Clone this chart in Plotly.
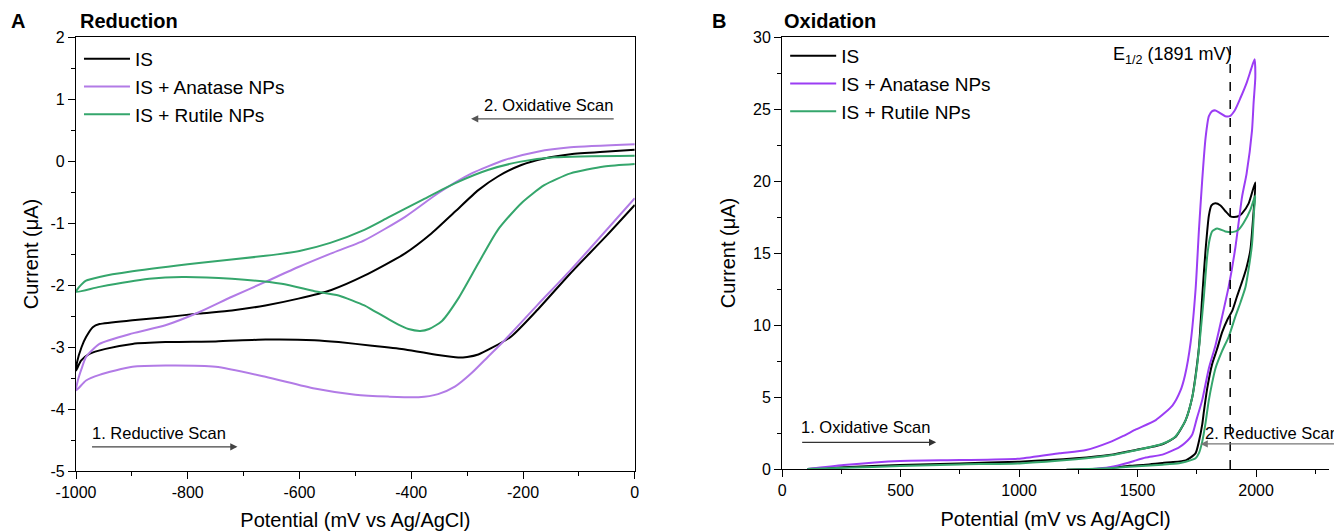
import plotly.graph_objects as go

# ---------------- Panel A: Reduction (mV vs Ag/AgCl, uA) ----------------
red_is_x = [0, -50, -115, -174, -221, -257, -280, -300, -316, -352, -411, -470, -530, -573, -661, -750,
            -840, -899, -947, -976, -991, -1000,
            -998, -990, -982, -970, -958, -899, -840, -780, -721, -661, -602, -543, -484, -411, -364,
            -322, -280, -245, -203, -162, -115, -55, 0]
red_is_y = [-0.71, -1.20, -1.81, -2.40, -2.83, -3.02, -3.12, -3.16, -3.17, -3.13, -3.04, -2.98, -2.92,
            -2.89, -2.88, -2.91, -2.92, -2.95, -3.03, -3.11, -3.22, -3.38,
            -3.24, -3.00, -2.84, -2.68, -2.63, -2.57, -2.52, -2.46, -2.41, -2.33, -2.22, -2.08, -1.85,
            -1.49, -1.17, -0.82, -0.47, -0.25, -0.065, 0.04, 0.11, 0.15, 0.18]

red_ana_x = [0, -115, -174, -233, -263, -292, -322, -352, -387, -441, -500, -573, -661, -750, -840,
             -899, -958, -982, -1000,
             -997, -990, -982, -958, -899, -840, -780, -721, -661, -602, -543, -484, -411, -352, -292,
             -233, -174, -115, 0]
red_ana_y = [-0.60, -1.76, -2.32, -2.89, -3.16, -3.42, -3.64, -3.76, -3.81, -3.80, -3.77, -3.67, -3.48,
             -3.32, -3.30, -3.32, -3.45, -3.54, -3.70,
             -3.55, -3.35, -3.16, -2.95, -2.78, -2.65, -2.44, -2.19, -1.95, -1.71, -1.49, -1.28, -0.90,
             -0.52, -0.20, 0.016, 0.15, 0.22, 0.27]

red_rut_x = [0, -55, -115, -162, -203, -245, -280, -316, -345, -368, -384, -405, -423, -470, -484, -530,
             -573, -632, -721, -810, -869, -958, -1000,
             -995, -982, -958, -899, -780, -661, -600, -545, -484, -441, -381, -322, -263, -204, -144, 0]
red_rut_y = [-0.05, -0.09, -0.20, -0.39, -0.68, -1.11, -1.65, -2.22, -2.58, -2.71, -2.74, -2.71, -2.64,
             -2.40, -2.33, -2.17, -2.10, -1.98, -1.90, -1.87, -1.90, -2.03, -2.11,
             -2.04, -1.93, -1.87, -1.78, -1.645, -1.53, -1.45, -1.32, -1.11, -0.91, -0.63, -0.36,
             -0.145, -0.01, 0.06, 0.086]

# ---------------- Panel B: Oxidation ----------------
ox_is_x = [106, 260, 498, 750, 1002, 1240, 1380, 1493, 1605, 1661, 1703, 1731, 1745, 1760, 1773, 1787,
           1801, 1812, 1828, 1850, 1871, 1892, 1906, 1925, 1941, 1969, 1997,
           1988, 1976, 1960, 1941, 1920, 1900, 1880, 1857, 1835, 1815, 1794, 1780, 1773, 1760, 1745,
           1720, 1703, 1650, 1605, 1535, 1465, 1380, 1325, 1200]
ox_is_y = [0, 0.12, 0.28, 0.39, 0.51, 0.74, 0.97, 1.32, 1.72, 2.24, 3.4, 5.0, 6.5, 8.6, 12.0, 15.2,
           17.6, 18.3, 18.45, 18.3, 17.9, 17.55, 17.5, 17.55, 17.75, 18.45, 19.9,
           17.5, 15.2, 14.0, 13.0, 12.0, 11.0, 10.4, 9.5, 8.3, 7.3, 5.6, 4.0, 3.1, 2.0, 1.1,
           0.75, 0.6, 0.48, 0.42, 0.30, 0.22, 0.05, 0.0, -0.05]

ox_ana_x = [106, 260, 498, 750, 1002, 1170, 1283, 1380, 1440, 1493, 1577, 1647, 1680, 1700, 1724,
            1745, 1759, 1773, 1787, 1801, 1815, 1829, 1850, 1870, 1889, 1910, 1935, 1960, 1980, 1994,
            1997, 1990, 1983, 1960, 1941, 1913, 1885, 1857, 1829, 1801, 1773, 1750, 1731, 1700, 1675,
            1605, 1535, 1493, 1465, 1380, 1310, 1200]
ox_ana_y = [0, 0.28, 0.56, 0.62, 0.72, 1.09, 1.32, 1.85, 2.3, 2.75, 3.4, 4.4, 5.4, 6.5, 8.8,
            12.5, 16.6, 20.1, 23.0, 24.5, 24.85, 24.9, 24.7, 24.5, 24.5, 24.9, 25.8, 26.8, 27.8, 28.45,
            27.2, 25.5, 23.5, 20.5, 18.9, 15.4, 12.7, 10.6, 8.6, 7.0, 4.8, 3.5, 2.4, 1.8, 1.5,
            1.0, 0.8, 0.6, 0.45, 0.12, 0.0, -0.1]

ox_rut_x = [106, 260, 498, 750, 1002, 1240, 1380, 1493, 1605, 1661, 1703, 1731, 1750, 1766, 1780,
            1794, 1805, 1815, 1836, 1870, 1900, 1925, 1948, 1976, 1997,
            1992, 1983, 1965, 1955, 1935, 1913, 1885, 1857, 1829, 1815, 1800, 1787, 1773, 1759, 1745,
            1703, 1675, 1605, 1535, 1465, 1380, 1325, 1200]
ox_rut_y = [0, 0.08, 0.21, 0.32, 0.39, 0.67, 0.93, 1.30, 1.75, 2.28, 3.4, 5.0, 7.0, 9.5, 12.0,
            14.8, 16.0, 16.5, 16.7, 16.5, 16.45, 16.6, 17.1, 18.0, 19.0,
            18.0, 15.6, 13.5, 12.6, 11.6, 10.6, 9.2, 8.2, 7.0, 6.0, 4.7, 3.2, 1.9, 1.1, 0.75,
            0.5, 0.4, 0.3, 0.22, 0.15, 0.06, 0.02, -0.05]

series_names = ["IS", "IS + Anatase NPs", "IS + Rutile NPs"]
e_half = 1891

red_xticks = [-1000, -800, -600, -400, -200, 0]
red_xtext = ["-1000", "-800", "-600", "-400", "-200", "0"]
red_yticks = [-5, -4, -3, -2, -1, 0, 1, 2]
red_ytext = ["-5", "-4", "-3", "-2", "-1", "0", "1", "2"]
ox_xticks = [0, 500, 1000, 1500, 2000, 2500]
ox_yticks = [0, 5, 10, 15, 20, 25, 30]

BLACK = "#000000"
PURPLE_A = "#b27be6"
PURPLE_B = "#9b3df4"
GREEN = "#35a66c"
FONT = "Arial, Liberation Sans, sans-serif"

# layout geometry (pixels)
W, H = 1334, 531
ML, MR, MT, MB = 76, 0, 37, 60
PW, PH = W - ML - MR, H - MT - MB


def px(x):
    return (x - ML) / PW


def py(y):
    return (H - MB - y) / PH


fig = go.Figure()

for xs, ys, name, col in [(red_is_x, red_is_y, series_names[0], BLACK),
                          (red_ana_x, red_ana_y, series_names[1], PURPLE_A),
                          (red_rut_x, red_rut_y, series_names[2], GREEN)]:
    fig.add_trace(go.Scatter(x=xs, y=ys, mode="lines", name=name,
                             line=dict(color=col, width=2, shape="spline", smoothing=0.6),
                             xaxis="x", yaxis="y", legend="legend"))

for xs, ys, name, col in [(ox_is_x, ox_is_y, series_names[0], BLACK),
                          (ox_ana_x, ox_ana_y, series_names[1], PURPLE_B),
                          (ox_rut_x, ox_rut_y, series_names[2], GREEN)]:
    fig.add_trace(go.Scatter(x=xs, y=ys, mode="lines", name=name,
                             line=dict(color=col, width=2, shape="spline", smoothing=0.6),
                             xaxis="x2", yaxis="y2", legend="legend2"))

axis_common = dict(showline=True, linecolor="black", linewidth=1.3, ticks="outside", ticklen=7,
                   tickwidth=1.2, tickcolor="black", showgrid=False, zeroline=False,
                   tickfont=dict(family=FONT, size=16, color="black"))

title_font = dict(family=FONT, size=20, color="black")

fig.update_layout(
    width=W, height=H,
    margin=dict(l=ML, r=MR, t=MT, b=MB, pad=0),
    paper_bgcolor="white", plot_bgcolor="white",
    font=dict(family=FONT, color="black"),
    xaxis=dict(domain=[0, px(637)], range=[-1000, 0], tickvals=red_xticks, ticktext=red_xtext,
               mirror=True, anchor="y",
               minor=dict(dtick=100, tick0=-1000, ticks="outside", ticklen=4, tickcolor="black", tickwidth=1.2),
               title=dict(text="Potential (mV vs Ag/AgCl)", font=title_font, standoff=13), **axis_common),
    yaxis=dict(domain=[0, 1], range=[-5, 2], tickvals=red_yticks, ticktext=red_ytext, mirror=True, anchor="x",
               minor=dict(dtick=0.5, tick0=-5, ticks="outside", ticklen=4, tickcolor="black", tickwidth=1.2),
               title=dict(text="Current (μA)", font=title_font, standoff=6), **axis_common),
    xaxis2=dict(domain=[px(785), 1], range=[0, 2308], tickvals=ox_xticks, mirror=True, anchor="y2",
                minor=dict(dtick=250, tick0=0, ticks="outside", ticklen=4, tickcolor="black", tickwidth=1.2),
                title=dict(text="Potential (mV vs Ag/AgCl)", font=title_font, standoff=13), **axis_common),
    yaxis2=dict(domain=[2 / PH, 1], range=[0, 30], tickvals=ox_yticks, mirror=False, anchor="x2",
                minor=dict(dtick=2.5, tick0=0, ticks="outside", ticklen=4, tickcolor="black", tickwidth=1.2),
                title=dict(text="Current (μA)", font=title_font, standoff=12), **axis_common),
    legend=dict(x=px(79), y=py(40), xanchor="left", yanchor="top", bgcolor="rgba(0,0,0,0)",
                font=dict(family=FONT, size=19, color="black"), itemwidth=46, tracegroupgap=0),
    legend2=dict(x=px(788), y=py(37), xanchor="left", yanchor="top", bgcolor="rgba(0,0,0,0)",
                 font=dict(family=FONT, size=19, color="black"), itemwidth=46, tracegroupgap=0),
    showlegend=True,
)

# dashed E1/2 line
fig.add_shape(type="line", xref="x2", yref="y2", x0=e_half, x1=e_half, y0=0, y1=30,
              line=dict(color="black", width=1.5, dash="dash"))

ann = []
# panel labels
ann.append(dict(text="<b>A</b>", xref="paper", yref="paper", x=px(18), y=py(21), showarrow=False,
                font=dict(family=FONT, size=20), xanchor="center", yanchor="middle"))
ann.append(dict(text="<b>Reduction</b>", xref="paper", yref="paper", x=px(78), y=py(21), showarrow=False,
                font=dict(family=FONT, size=20), xanchor="left", yanchor="middle"))
ann.append(dict(text="<b>B</b>", xref="paper", yref="paper", x=px(722), y=py(21), showarrow=False,
                font=dict(family=FONT, size=20), xanchor="center", yanchor="middle"))
ann.append(dict(text="<b>Oxidation</b>", xref="paper", yref="paper", x=px(785), y=py(21), showarrow=False,
                font=dict(family=FONT, size=20), xanchor="left", yanchor="middle"))

# scan-direction annotations, panel A
ann.append(dict(text="2. Oxidative Scan", xref="x", yref="y", x=-154, y=0.90, showarrow=False,
                font=dict(family=FONT, size=16.5), xanchor="center", yanchor="middle"))
ann.append(dict(text="", xref="x", yref="y", axref="x", ayref="y", x=-293, y=0.68, ax=-35, ay=0.68,
                showarrow=True, arrowhead=2, arrowsize=1.2, arrowwidth=1.2, arrowcolor="#555555"))
ann.append(dict(text="1. Reductive Scan", xref="x", yref="y", x=-852, y=-4.39, showarrow=False,
                font=dict(family=FONT, size=16.5), xanchor="center", yanchor="middle"))
ann.append(dict(text="", xref="x", yref="y", axref="x", ayref="y", x=-711, y=-4.61, ax=-974, ay=-4.61,
                showarrow=True, arrowhead=2, arrowsize=1.2, arrowwidth=1.2, arrowcolor="#444444"))

# panel B
ann.append(dict(text="1. Oxidative Scan", xref="x2", yref="y2", x=353, y=2.94, showarrow=False,
                font=dict(family=FONT, size=16.5), xanchor="center", yanchor="middle"))
ann.append(dict(text="", xref="x2", yref="y2", axref="x2", ayref="y2", x=650, y=1.85, ax=78, ay=1.85,
                showarrow=True, arrowhead=2, arrowsize=1.2, arrowwidth=1.2, arrowcolor="#333333"))
ann.append(dict(text="2. Reductive Scan", xref="x2", yref="y2", x=1778, y=2.48, showarrow=False,
                font=dict(family=FONT, size=16.5), xanchor="left", yanchor="middle"))
ann.append(dict(text="", xref="x2", yref="y2", axref="x2", ayref="y2", x=1766, y=1.74, ax=2500, ay=1.74,
                showarrow=True, arrowhead=2, arrowsize=1.2, arrowwidth=1.2, arrowcolor="#777777"))
ann.append(dict(text="E<sub>1/2</sub> (1891 mV)", xref="x2", yref="y2", x=1905, y=28.75, showarrow=False,
                font=dict(family=FONT, size=18), xanchor="right", yanchor="middle"))

fig.update_layout(annotations=ann)

fig.write_html("out.html")
